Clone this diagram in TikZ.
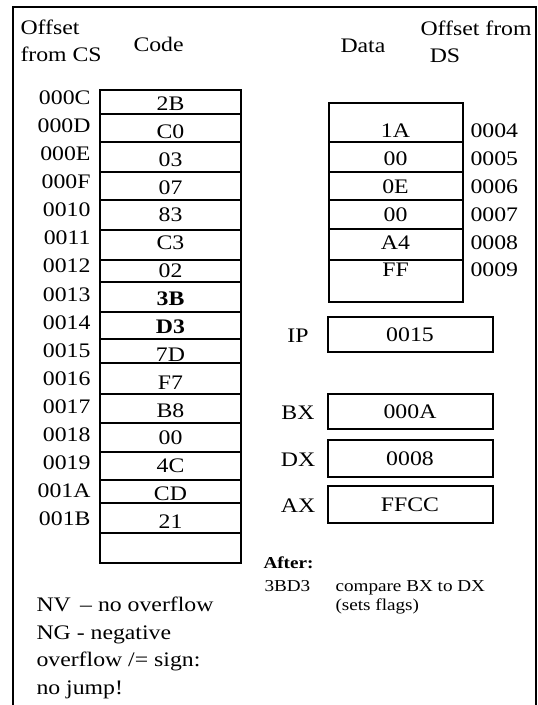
\documentclass[tikz,border=0pt]{standalone}
\usepackage{fontspec}
\setmainfont[FakeStretch=1.15]{Liberation Serif}
\usetikzlibrary{positioning}

\begin{document}
\begin{tikzpicture}[x=0.75pt,y=-0.75pt,line width=1.5pt,
 big/.style={font=\fontsize{15.5}{20.6}\selectfont,inner sep=0pt},
 small/.style={font=\fontsize{12.5}{14}\selectfont,inner sep=0pt},
 reg/.style={draw,minimum width=123.75pt,minimum height=26.5pt,inner sep=0pt,font=\fontsize{15.5}{18}\selectfont},
 lab/.style={big,anchor=base}]
\useasboundingbox (0,0) rectangle (537,705);
\draw (12.5,705) -- (12.5,7.5) -- (535.5,7.5) -- (535.5,705);
\node[big,align=left,anchor=base west] (cshead) at (19.5,62) {Offset\\from CS};
\node[big,anchor=base west] (codehead) at (132.5,52) {Code};
\node[big,anchor=base west] (datahead) at (339.5,53) {Data};
\node[big,align=left,anchor=base west] (dshead) at (419.5,63) {Offset from\\\hspace*{0.45em}DS};
\draw (100,90) rectangle (241,563);
\foreach \y in {114.5,142,172,200,230,260,282,312,339,363,394,423,452,480,503,533}
  \draw (100,\y) -- (241,\y);
\foreach \o [count=\i from 0] in {000C,000D,000E,000F,0010,0011,0012,0013,0014,0015,0016,0017,0018,0019,001A,001B}
  \node[big,anchor=base east] (off\i) at (91.5,105+28*\i) {\o};
\foreach \v [count=\i from 0] in {2B,C0,03,07,83,C3,02,\textbf{3B},\textbf{D3},7D,F7,B8,00,4C,CD,21}
  \node[lab] (code\i) at (170.5,110.5+27.87*\i) {\v};
\draw (328.5,103) rectangle (463,302);
\foreach \y in {142,172,200,229,260}
  \draw (328.5,\y) -- (463,\y);
\foreach \v/\o [count=\i from 0] in {1A/0004,00/0005,0E/0006,00/0007,A4/0008,FF/0009}{
  \node[lab] (data\i) at (395.5,138+27.8*\i) {\v};
  \node[big,anchor=base west] (doff\i) at (469.5,138+27.8*\i) {\o};
}
\node[reg] (ip) at (410,334.5) {0015};
\node[reg] (bx) at (410,411.5) {000A};
\node[reg,minimum height=27.75pt] (dx) at (410,458.5) {0008};
\node[reg,minimum height=27.75pt] (ax) at (410,504.5) {FFCC};
\node[lab] (iplab) at (298,342) {IP};
\node[lab] (bxlab) at (298,419) {BX};
\node[lab] (dxlab) at (298,466) {DX};
\node[lab] (axlab) at (298,512) {AX};
\node[small,anchor=base west] (after) at (262.5,568) {\textbf{After:}};
\node[small,anchor=base west] (instr) at (263.5,591.5) {3BD3};
\node[small,align=left,anchor=base west] (comment) at (334.5,610) {compare BX to DX\\(sets flags)};
\node[big,align=left,anchor=base west] (note) at (35.5,694) {NV \,-- no overflow\\NG - negative\\overflow /= sign:\\no jump!};
\end{tikzpicture}
\end{document}
